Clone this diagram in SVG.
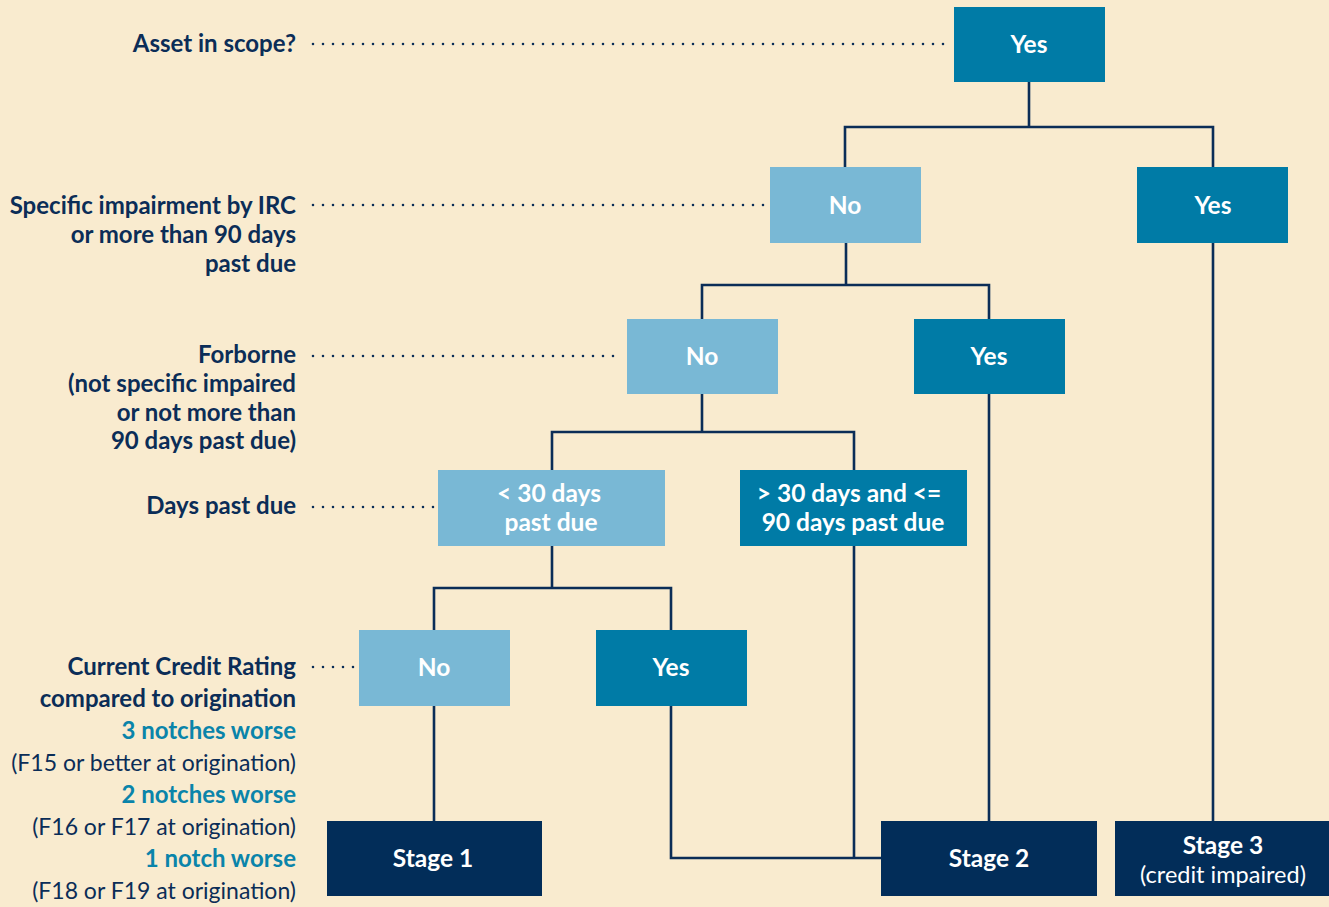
<svg xmlns="http://www.w3.org/2000/svg" width="1329" height="907" viewBox="0 0 1329 907">
<style>
.bg{fill:#f9ebcf}
.dark{fill:#007ba6}
.light{fill:#79b8d5}
.navy{fill:#022d59}
.bt{font-family:Lato,"Liberation Sans",sans-serif;font-weight:700;font-size:24.5px;fill:#ffffff;text-anchor:middle}
.bn{font-family:Lato,"Liberation Sans",sans-serif;font-weight:400;font-size:23.5px;fill:#ffffff;text-anchor:middle}
.lb{font-family:Lato,"Liberation Sans",sans-serif;font-weight:700;font-size:24px;fill:#0b2d57;text-anchor:end}
.lt{font-family:Lato,"Liberation Sans",sans-serif;font-weight:700;font-size:24px;fill:#0a84aa;text-anchor:end}
.ln{font-family:Lato,"Liberation Sans",sans-serif;font-weight:400;font-size:23px;fill:#0b2d57;text-anchor:end}
.conn{fill:none;stroke:#0b2d57;stroke-width:2.6}
.dot{fill:none;stroke:#0b2d57;stroke-width:2.6;stroke-linecap:round;stroke-dasharray:0 10}
</style>
<rect class="bg" x="0" y="0" width="1329" height="907"/>
<g id="labels">
<text class="lb" x="296" y="52">Asset in scope?</text>
<text class="lb" x="296" y="214">Specific impairment by IRC</text>
<text class="lb" x="296" y="243">or more than 90 days</text>
<text class="lb" x="296" y="272">past due</text>
<text class="lb" x="296" y="363">Forborne</text>
<text class="lb" x="296" y="392">(not specific impaired</text>
<text class="lb" x="296" y="421">or not more than</text>
<text class="lb" x="296" y="449">90 days past due)</text>
<text class="lb" x="296" y="514">Days past due</text>
<text class="lb" x="296" y="675">Current Credit Rating</text>
<text class="lb" x="296" y="707">compared to origination</text>
<text class="lt" x="296" y="739">3 notches worse</text>
<text class="ln" x="296" y="771">(F15 or better at origination)</text>
<text class="lt" x="296" y="803">2 notches worse</text>
<text class="ln" x="296" y="835">(F16 or F17 at origination)</text>
<text class="lt" x="296" y="867">1 notch worse</text>
<text class="ln" x="296" y="899">(F18 or F19 at origination)</text>
</g>
<g id="connectors">
<path class="dot" d="M313 44H948"/>
<path class="dot" d="M313 205H764"/>
<path class="dot" d="M313 356H621"/>
<path class="dot" d="M313 507H434"/>
<path class="dot" d="M313 667H354"/>
<path class="conn" d="M1029 82V127M845 168V127H1213V168"/>
<path class="conn" d="M846 243V285M702 319V285H989V319"/>
<path class="conn" d="M702 394V432M552 470V432H854V470"/>
<path class="conn" d="M552 546V588M434 630V588H671V630"/>
<path class="conn" d="M434 706V821"/>
<path class="conn" d="M671 706V858H881"/>
<path class="conn" d="M854 546V858"/>
<path class="conn" d="M989 394V821"/>
<path class="conn" d="M1213 243V821"/>
</g>
<g id="n-scope"><rect class="dark" x="954" y="7" width="151" height="75"/><text class="bt" x="1029" y="53">Yes</text></g>
<g id="n-irc-no"><rect class="light" x="770" y="167" width="151" height="76"/><text class="bt" x="845" y="214">No</text></g>
<g id="n-irc-yes"><rect class="dark" x="1137" y="167" width="151" height="76"/><text class="bt" x="1213" y="214">Yes</text></g>
<g id="n-forb-no"><rect class="light" x="627" y="319" width="151" height="75"/><text class="bt" x="702" y="365">No</text></g>
<g id="n-forb-yes"><rect class="dark" x="914" y="319" width="151" height="75"/><text class="bt" x="989" y="365">Yes</text></g>
<g id="n-dpd-lt30"><rect class="light" x="438" y="470" width="227" height="76"/><text class="bt" x="549" y="502">&lt; 30 days</text><text class="bt" x="551" y="531">past due</text></g>
<g id="n-dpd-30-90"><rect class="dark" x="740" y="470" width="227" height="76"/><text class="bt" x="849" y="502">&gt; 30 days and &lt;=</text><text class="bt" x="853" y="531">90 days past due</text></g>
<g id="n-ccr-no"><rect class="light" x="359" y="630" width="151" height="76"/><text class="bt" x="434" y="676">No</text></g>
<g id="n-ccr-yes"><rect class="dark" x="596" y="630" width="151" height="76"/><text class="bt" x="671" y="676">Yes</text></g>
<g id="n-stage1"><rect class="navy" x="327" y="821" width="215" height="75"/><text class="bt" x="433" y="867">Stage 1</text></g>
<g id="n-stage2"><rect class="navy" x="881" y="821" width="216" height="75"/><text class="bt" x="989" y="867">Stage 2</text></g>
<g id="n-stage3"><rect class="navy" x="1115" y="821" width="214" height="75"/><text class="bt" x="1223" y="854">Stage 3</text><text class="bn" x="1223" y="883">(credit impaired)</text></g>
</svg>
